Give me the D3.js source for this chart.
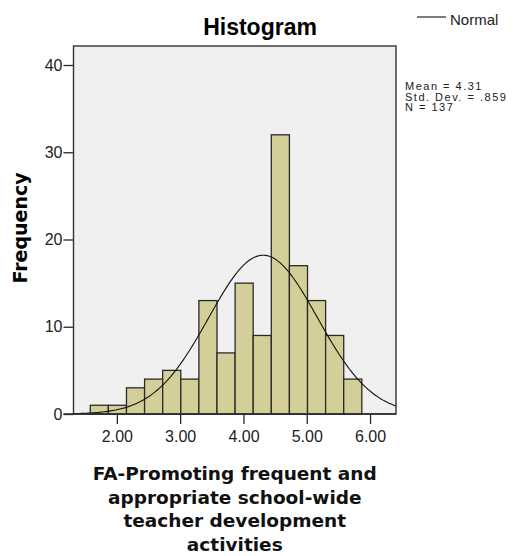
<!DOCTYPE html>
<html>
<head>
<meta charset="utf-8">
<script src="https://cdnjs.cloudflare.com/ajax/libs/d3/7.8.5/d3.min.js"></script>
<style>
  body { margin: 0; background: #fff; }
  svg { display: block; }
</style>
</head>
<body>
<svg id="chart" width="513" height="556"></svg>
<script>
// histogram data
const binStart = 1.58;
const binWidth = 0.286;
const counts = [1, 1, 3, 4, 5, 4, 13, 7, 15, 9, 32, 17, 13, 9, 4];
const xTicks = [2, 3, 4, 5, 6];
const yTicks = [0, 10, 20, 30, 40];
const statLines = ["Mean = 4.31", "Std. Dev. = .859", "N = 137"];
const mean = 4.31, sd = 0.859, n = 137;
const titleLines = ["FA-Promoting frequent and", "appropriate school-wide", "teacher development", "activities"];

var svg = d3.select('#chart');

// plot frame (note: "top" is taken by window.top, so use frameTop)
var frameLeft = 73.5, frameRight = 396, frameTop = 46, frameBottom = 414;

var x = d3.scaleLinear().domain([1.315, 6.41]).range([frameLeft, frameRight]);
var y = d3.scaleLinear().domain([0, 40]).range([frameBottom, 65]);

svg.append('rect')
  .attr('x', frameLeft).attr('y', frameTop)
  .attr('width', frameRight - frameLeft).attr('height', frameBottom - frameTop)
  .attr('fill', '#f0f0f0')
  .attr('stroke', '#333')
  .attr('stroke-width', 1.4);

// bars
var bins = counts.map(function(c, i){
  return {x0: binStart + i * binWidth, x1: binStart + (i + 1) * binWidth, c: c};
});
svg.append('g').selectAll('rect')
  .data(bins).enter().append('rect')
  .attr('x', d => x(d.x0))
  .attr('width', d => x(d.x1) - x(d.x0))
  .attr('y', d => y(d.c))
  .attr('height', d => y(0) - y(d.c))
  .attr('fill', '#d4cf98')
  .attr('stroke', '#2a2a2a')
  .attr('stroke-width', 1.3);

// normal curve from the stats
svg.append('clipPath').attr('id', 'clip')
  .append('rect').attr('x', frameLeft).attr('y', frameTop)
  .attr('width', frameRight - frameLeft).attr('height', frameBottom - frameTop);

var scale = n * binWidth;
var pts = d3.range(0, 201).map(function(i){
  var v = x.domain()[0] + (x.domain()[1] - x.domain()[0]) * i / 200;
  var z = (v - mean) / sd;
  return [v, scale * Math.exp(-0.5 * z * z) / (sd * Math.sqrt(2 * Math.PI))];
});
svg.append('path')
  .datum(pts)
  .attr('clip-path', 'url(#clip)')
  .attr('d', d3.line().x(d => x(d[0])).y(d => y(d[1])))
  .attr('fill', 'none')
  .attr('stroke', '#111')
  .attr('stroke-width', 1.1);

// axes
var yAxis = svg.append('g')
  .attr('transform', 'translate(' + frameLeft + ',0)')
  .call(d3.axisLeft(y).tickValues(yTicks).tickSize(10).tickPadding(1).tickFormat(d3.format('d')));
var xAxis = svg.append('g')
  .attr('transform', 'translate(0,' + frameBottom + ')')
  .call(d3.axisBottom(x).tickValues(xTicks).tickSize(10).tickPadding(7).tickFormat(d3.format('.2f')));

[yAxis, xAxis].forEach(function(a){
  a.select('.domain').remove();
  a.selectAll('line').attr('stroke', '#2a2a2a').attr('stroke-width', 1.3);
  a.selectAll('text')
    .attr('fill', '#222')
    .style('font-family', '"Liberation Sans", Arial, sans-serif')
    .style('font-size', '16px');
});
// x axis line from the 0 tick
svg.append('line')
  .attr('x1', frameLeft - 10).attr('x2', frameRight)
  .attr('y1', frameBottom).attr('y2', frameBottom)
  .attr('stroke', '#2a2a2a').attr('stroke-width', 1.3);

// title
svg.append('text')
  .attr('x', 260).attr('y', 35)
  .attr('text-anchor', 'middle')
  .style('font-family', '"Liberation Sans", Arial, sans-serif')
  .style('font-weight', 'bold')
  .style('font-size', '23px')
  .text('Histogram');

// y label
svg.append('text')
  .attr('transform', 'translate(27,228) rotate(-90)')
  .attr('text-anchor', 'middle')
  .style('font-family', '"DejaVu Sans", Verdana, sans-serif')
  .style('font-weight', 'bold')
  .style('font-size', '19px')
  .text('Frequency');

// x label
svg.append('g').selectAll('text')
  .data(titleLines).enter().append('text')
  .attr('x', (frameLeft + frameRight) / 2)
  .attr('y', (d, i) => 480 + i * 23.7)
  .attr('text-anchor', 'middle')
  .style('font-family', '"DejaVu Sans", Verdana, sans-serif')
  .style('font-weight', 'bold')
  .style('font-size', '18.5px')
  .attr('fill', '#111')
  .text(d => d);

// legend
svg.append('line')
  .attr('x1', 417).attr('x2', 446)
  .attr('y1', 17).attr('y2', 17)
  .attr('stroke', '#111').attr('stroke-width', 1.1);
svg.append('text')
  .attr('x', 450).attr('y', 25)
  .style('font-family', '"Liberation Sans", Arial, sans-serif')
  .style('font-size', '15px')
  .attr('fill', '#222')
  .text('Normal');

// stats text
svg.append('g').selectAll('text')
  .data(statLines).enter().append('text')
  .attr('x', 405)
  .attr('y', (d, i) => 90 + i * 10.5)
  .style('font-family', '"Liberation Sans", Arial, sans-serif')
  .style('font-size', '11px')
  .style('letter-spacing', '1.5px')
  .attr('fill', '#222')
  .text(d => d);
</script>
</body>
</html>
